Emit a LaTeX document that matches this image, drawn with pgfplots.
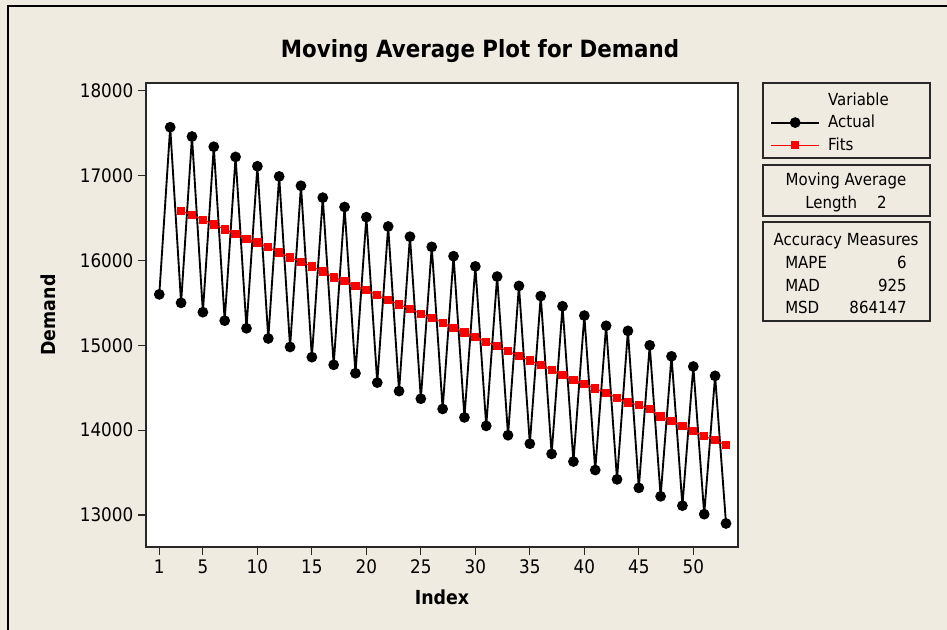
\documentclass[border=0pt]{standalone}
\usepackage{pgfplots}
\usepackage{pgfplotstable}
\pgfplotsset{compat=1.18}
\usepackage{fontspec}
\setmainfont{DejaVu Sans}[FakeStretch=0.9]
\definecolor{bg}{RGB}{239,235,224}
\definecolor{frame}{RGB}{40,40,40}
\pgfplotstableread{
x y
1 15600
2 17570
3 15500
4 17460
5 15390
6 17340
7 15290
8 17220
9 15200
10 17110
11 15080
12 16990
13 14980
14 16880
15 14860
16 16740
17 14770
18 16630
19 14670
20 16510
21 14560
22 16400
23 14460
24 16280
25 14370
26 16160
27 14250
28 16050
29 14150
30 15930
31 14050
32 15810
33 13940
34 15700
35 13840
36 15580
37 13720
38 15460
39 13630
40 15350
41 13530
42 15230
43 13420
44 15170
45 13320
46 15000
47 13220
48 14870
49 13110
50 14750
51 13010
52 14640
53 12900
}\actual
\pgfplotstableread{
x y
3 16585
4 16535
5 16480
6 16425
7 16365
8 16315
9 16255
10 16210
11 16155
12 16095
13 16035
14 15985
15 15930
16 15870
17 15800
18 15755
19 15700
20 15650
21 15590
22 15535
23 15480
24 15430
25 15370
26 15325
27 15265
28 15205
29 15150
30 15100
31 15040
32 14990
33 14930
34 14875
35 14820
36 14770
37 14710
38 14650
39 14590
40 14545
41 14490
42 14440
43 14380
44 14325
45 14295
46 14245
47 14160
48 14110
49 14045
50 13990
51 13930
52 13880
53 13825
}\fits
\begin{document}
\begin{tikzpicture}[x=0.75pt,y=-0.75pt]
\useasboundingbox (0,0) rectangle (947,630);
\fill[bg] (0,0) rectangle (947,630);
\draw[black,line width=1.5pt] (8,630) -- (8,6) -- (947,6);
\node[font=\fontsize{17.8}{21}\selectfont\bfseries] at (480,51) {Moving Average Plot for Demand};
\begin{axis}[
 at={(109.5pt,-62.25pt)}, anchor=north west, scale only axis,
 width=444pt, height=348pt,
 xmin=-0.22, xmax=54.1, ymin=12623, ymax=18091,
 axis background/.style={fill=white},
 axis line style={frame, line width=1.2pt},
 xtick={1,5,10,15,20,25,30,35,40,45,50},
 ytick={13000,14000,15000,16000,17000,18000},
 tick align=outside, xtick pos=bottom, ytick pos=left,
 major tick length=6pt,
 tick style={frame, line width=0.9pt},
 ticklabel style={font=\fontsize{14}{16}\selectfont},
 /pgf/number format/assume math mode=true,
 y tick label style={/pgf/number format/1000 sep={}},
 scaled y ticks=false,
 xlabel={Index}, ylabel={Demand},
 label style={font=\fontsize{14.5}{16}\selectfont\bfseries},
 xlabel style={at={(axis description cs:0.5,-0.1078)}, anchor=center},
 ylabel style={at={(axis description cs:-0.165,0.5)}, anchor=center},
 legend style={at={(axis description cs:1.0473,0.9914)}, anchor=north west,
   draw=none, fill=none, font=\fontsize{12.5}{15}\selectfont, row sep=2pt, column sep=4pt},
 legend cell align=left,
 legend image code/.code={\draw[mark repeat=2,mark phase=2,#1] plot coordinates {(0pt,0pt) (18pt,0pt) (36pt,0pt)};},
]
\addlegendimage{empty legend}
\addlegendentry{Variable}
\addplot[black, line width=1.4pt, mark=*, mark size=3.3pt, mark options={solid, fill=black}] table {\actual};
\addlegendentry{Actual}
\addplot[red, line width=0.8pt, mark=square*, mark size=2.7pt, mark options={solid, fill=red}] table {\fits};
\addlegendentry{Fits}
\end{axis}
\begin{scope}[every node/.style={inner sep=0pt, font=\fontsize{12.5}{15}\selectfont}]
\draw[frame, line width=1.2pt] (763,83) rectangle (930,158);
\draw[frame, line width=1.2pt] (763,165) rectangle (930,216);
\draw[frame, line width=1.2pt] (763,222) rectangle (930,321);
\node[anchor=base] at (846,186) {Moving Average};
\node[anchor=base west] at (805,209) {Length};
\node[anchor=base east] at (887,209) {2};
\node[anchor=base] at (846,246) {Accuracy Measures};
\node[anchor=base west] at (785,269) {MAPE};
\node[anchor=base east] at (907,269) {6};
\node[anchor=base west] at (785,292) {MAD};
\node[anchor=base east] at (907,292) {925};
\node[anchor=base west] at (785,314) {MSD};
\node[anchor=base east] at (907,314) {864147};
\end{scope}
\end{tikzpicture}
\end{document}
